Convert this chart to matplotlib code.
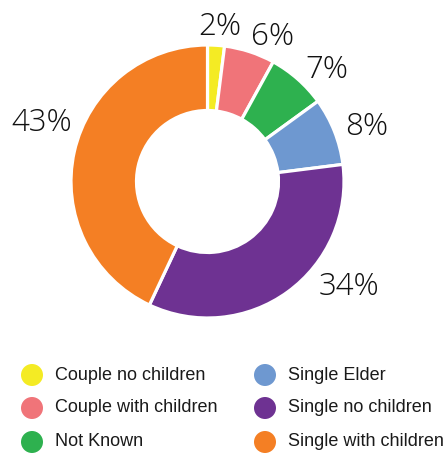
import matplotlib
matplotlib.use("Agg")
import matplotlib.pyplot as plt

categories = ["Couple no children", "Couple with children", "Not Known",
              "Single Elder", "Single no children", "Single with children"]
values = [2, 6, 7, 8, 34, 43]
pct_labels = ["2%", "6%", "7%", "8%", "34%", "43%"]
colors = ["#F4EB24", "#F07479", "#2EB14F", "#6E98D0", "#6E3292", "#F47F24"]

W, H = 448, 454
# label anchor positions (image px: x centre, baseline y)
label_pos = [(220, 35), (273, 45), (327, 78), (367, 135), (349, 295), (42, 131)]

plt.rcParams['font.family'] = ['Liberation Sans', 'DejaVu Sans']

fig = plt.figure(figsize=(W / 100, H / 100), dpi=100)
ax = fig.add_axes([0, 0, 1, 1])

cx, cy = 207.5, H - 181.5
R_out, R_in = 136.5, 71
ax.pie(values, colors=colors, startangle=90, counterclock=False,
       radius=R_out, center=(cx, cy),
       wedgeprops=dict(width=R_out - R_in, edgecolor="white", linewidth=2.3))

for lab, (x, y) in zip(pct_labels, label_pos):
    ax.text(x, H - y, lab, ha="center", va="baseline", fontsize=22.5,
            color="#111111", family=["Open Sans", "DejaVu Sans"], fontweight="light")

# legend
col_x = [32, 265]
row_y = [375, 408, 442]
for i, (cat, col) in enumerate(zip(categories, colors)):
    c, r = divmod(i, 3)
    ax.scatter([col_x[c]], [H - row_y[r]], s=(22 * 0.72) ** 2, color=col,
               edgecolors="none")
    ax.text(col_x[c] + 23, H - row_y[r], cat, ha="left", va="center",
            fontsize=13, color="#1a1a1a")

ax.set_xlim(0, W)
ax.set_ylim(0, H)
ax.set_aspect("equal")
ax.axis("off")
fig.savefig("out.png", dpi=100)
